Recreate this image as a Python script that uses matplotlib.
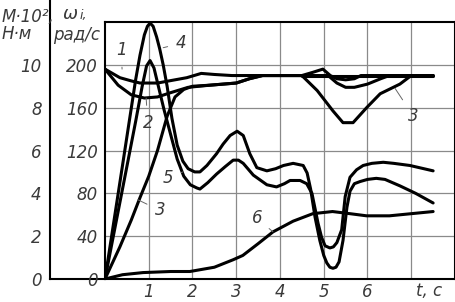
import matplotlib.pyplot as plt

# omega curves (rad/s)
t_1 = [0, 0.34, 0.6, 0.8, 1.2, 1.6, 1.87, 2.2, 2.5, 2.9, 3.5, 4.5, 4.75, 4.98, 5.15, 5.3, 5.5, 5.7, 5.85, 7.5]
omega_1 = [196, 188, 185, 183, 183, 186, 188, 192, 191, 190, 190, 190, 193, 196, 190, 187, 186, 187, 190, 190]

t_2 = [0, 0.3, 0.6, 0.9, 1.2, 1.5, 1.9, 2.4, 3.0, 3.3, 3.6, 5.1, 5.3, 5.5, 5.7, 6.0, 6.3, 6.5, 7.5]
omega_2 = [196, 181, 172, 169, 170, 174, 179, 181, 183, 187, 190, 190, 183, 179, 179, 182, 187, 190, 190]

t_3 = [0, 0.34, 0.6, 0.8, 1.0, 1.2, 1.42, 1.6, 1.8, 2.0, 2.4, 3.0, 3.3, 3.6, 4.5, 4.85, 5.21, 5.44, 5.67,
       5.98, 6.29, 6.74, 7.0, 7.5]
omega_3 = [0, 30, 55, 76, 96, 120, 152, 170, 177, 180, 181, 183, 187, 190, 190, 176, 157, 146, 146,
           160, 173, 182, 190, 190]

t_base = [4.5, 7.5]
omega_base = [190, 190]

# torque curves (M*10^2, N*m, drawn on the omega scale)
t_4 = [0, 0.4, 0.7, 0.8, 0.9, 0.97, 1.03, 1.1, 1.18, 1.25, 1.33, 1.42, 1.53, 1.65, 1.78, 1.9, 2.05, 2.17,
       2.33, 2.55, 2.7, 2.86, 3.02, 3.16, 3.31, 3.47, 3.7, 3.9, 4.08, 4.3, 4.53, 4.62, 4.7, 4.8, 4.91, 5.0,
       5.07, 5.14, 5.21, 5.28, 5.35, 5.44, 5.53, 5.6, 5.7, 5.83, 6.0, 6.2, 6.4, 6.74, 7.1, 7.5]
m_4 = [0, 106, 186, 209, 228, 236, 239, 236, 226, 215, 200, 180, 150, 125, 110, 103, 100, 100,
       106, 117, 126, 134, 138, 134, 117, 104, 101, 103, 106, 108, 106, 99, 84, 58, 36, 22,
       15, 11, 10, 11, 16, 36, 67, 82, 89, 91, 93, 94, 93, 87, 80, 71]

t_5 = [0, 0.4, 0.7, 0.85, 0.95, 1.03, 1.12, 1.22, 1.35, 1.5, 1.65, 1.8, 1.95, 2.1, 2.17, 2.35, 2.55, 2.75,
       2.93, 3.05, 3.16, 3.39, 3.7, 3.92, 4.1, 4.23, 4.46, 4.61, 4.73, 4.87, 4.95, 5.03, 5.14, 5.22, 5.3,
       5.41, 5.49, 5.6, 5.75, 5.9, 6.1, 6.36, 6.6, 6.97, 7.5]
m_5 = [0, 84, 147, 180, 199, 204, 197, 180, 158, 135, 112, 96, 88, 85, 84, 90, 98, 105,
       111, 111, 108, 97, 88, 86, 89, 92, 92, 89, 80, 52, 39, 31, 29, 30, 34,
       46, 77, 95, 102, 106, 108, 109, 108, 106, 101]

t_6 = [0, 0.4, 0.87, 1.5, 1.94, 2.5, 2.93, 3.15, 3.5, 3.84, 4.3, 4.75, 5.2, 5.6, 5.98, 6.5, 7.0, 7.5]
m_6 = [0, 4, 6, 7, 7, 11, 18, 22, 33, 44, 54, 61, 63, 61, 59, 59, 61, 63]

x_ticks = [1, 2, 3, 4, 5, 6, 7]
x_labels = ['1', '2', '3', '4', '5', '6', '']
omega_ticks = [0, 40, 80, 120, 160, 200]
m_ticks = [0, 2, 4, 6, 8, 10]

# curve labels: text, text position, leader end
curve_labels = [
    ('1', (0.37, 214), (0.39, 196)),
    ('4', (1.74, 220), (1.33, 216)),
    ('2', (0.98, 146), (0.94, 169)),
    ('5', (1.44, 94), (1.78, 100)),
    ('3', (1.26, 64), (0.75, 74)),
    ('3', (7.05, 152), (6.63, 178)),
    ('6', (3.47, 57), (3.84, 44)),
]

plt.rcParams['font.family'] = ['Liberation Sans Narrow', 'DejaVu Sans']
plt.rcParams['font.style'] = 'italic'
text_color = '#3a3a3a'

fig = plt.figure(figsize=(4.56, 3.02), dpi=100)
ax_m = fig.add_axes([50 / 456, 23 / 302, 55 / 456, 279 / 302])
ax = fig.add_axes([105 / 456, 23 / 302, 350 / 456, 257 / 302])

# separate torque axis on the left
ax_m.patch.set_alpha(0)
ax_m.set_ylim(0, 279 / 21.4)
ax_m.set_xlim(0, 1)
ax_m.set_xticks([])
ax_m.set_yticks(m_ticks)
ax_m.set_yticklabels([str(v) for v in m_ticks])
ax_m.tick_params(axis='y', length=0, pad=6, labelsize=12, labelcolor=text_color)
for side in ['top', 'right']:
    ax_m.spines[side].set_visible(False)
for side in ['left', 'bottom']:
    ax_m.spines[side].set_linewidth(1.5)

ax.set_xlim(0, 8)
ax.set_ylim(0, 240)
ax.set_xticks(x_ticks)
ax.set_xticklabels(x_labels)
ax.set_yticks(omega_ticks)
ax.set_yticklabels([str(v) for v in omega_ticks])
ax.tick_params(length=0, labelsize=12, labelcolor=text_color)
ax.tick_params(axis='x', pad=3)
ax.tick_params(axis='y', pad=5)
ax.grid(True, color='#8a8a8a', linewidth=0.9)
for s in ax.spines.values():
    s.set_linewidth(1.5)

kw = dict(color='black', linewidth=2.2, solid_joinstyle='round', solid_capstyle='round')
ax.plot(t_base, omega_base, **kw)
ax.plot(t_1, omega_1, **kw)
ax.plot(t_2, omega_2, **kw)
ax.plot(t_3, omega_3, **kw)
ax.plot(t_4, m_4, **kw)
ax.plot(t_5, m_5, **kw)
ax.plot(t_6, m_6, **kw)

for txt, pos, end in curve_labels:
    ax.annotate(txt, xy=end, xytext=pos, fontsize=12, color=text_color, ha='center', va='center',
                arrowprops=dict(arrowstyle='-', color='#666666', linewidth=0.7, shrinkA=4, shrinkB=0))

ax.text(7.12, -0.046, 't, c', transform=ax.get_xaxis_transform(), fontsize=12, color=text_color,
        ha='left', va='center')

fig.text(2 / 456, 1 - 17 / 302, 'М·10²,', fontsize=12, color=text_color, va='center', ha='left')
fig.text(2 / 456, 1 - 34 / 302, 'Н·м', fontsize=12, color=text_color, va='center', ha='left')
fig.text(63 / 456, 1 - 14 / 302, 'ω', fontsize=13, color=text_color, va='center', ha='left')
fig.text(80 / 456, 1 - 16 / 302, 'i,', fontsize=9, color=text_color, va='center', ha='left')
fig.text(53 / 456, 1 - 35 / 302, 'рад/с', fontsize=12, color=text_color, va='center', ha='left')

fig.savefig('out.png', dpi=100)
